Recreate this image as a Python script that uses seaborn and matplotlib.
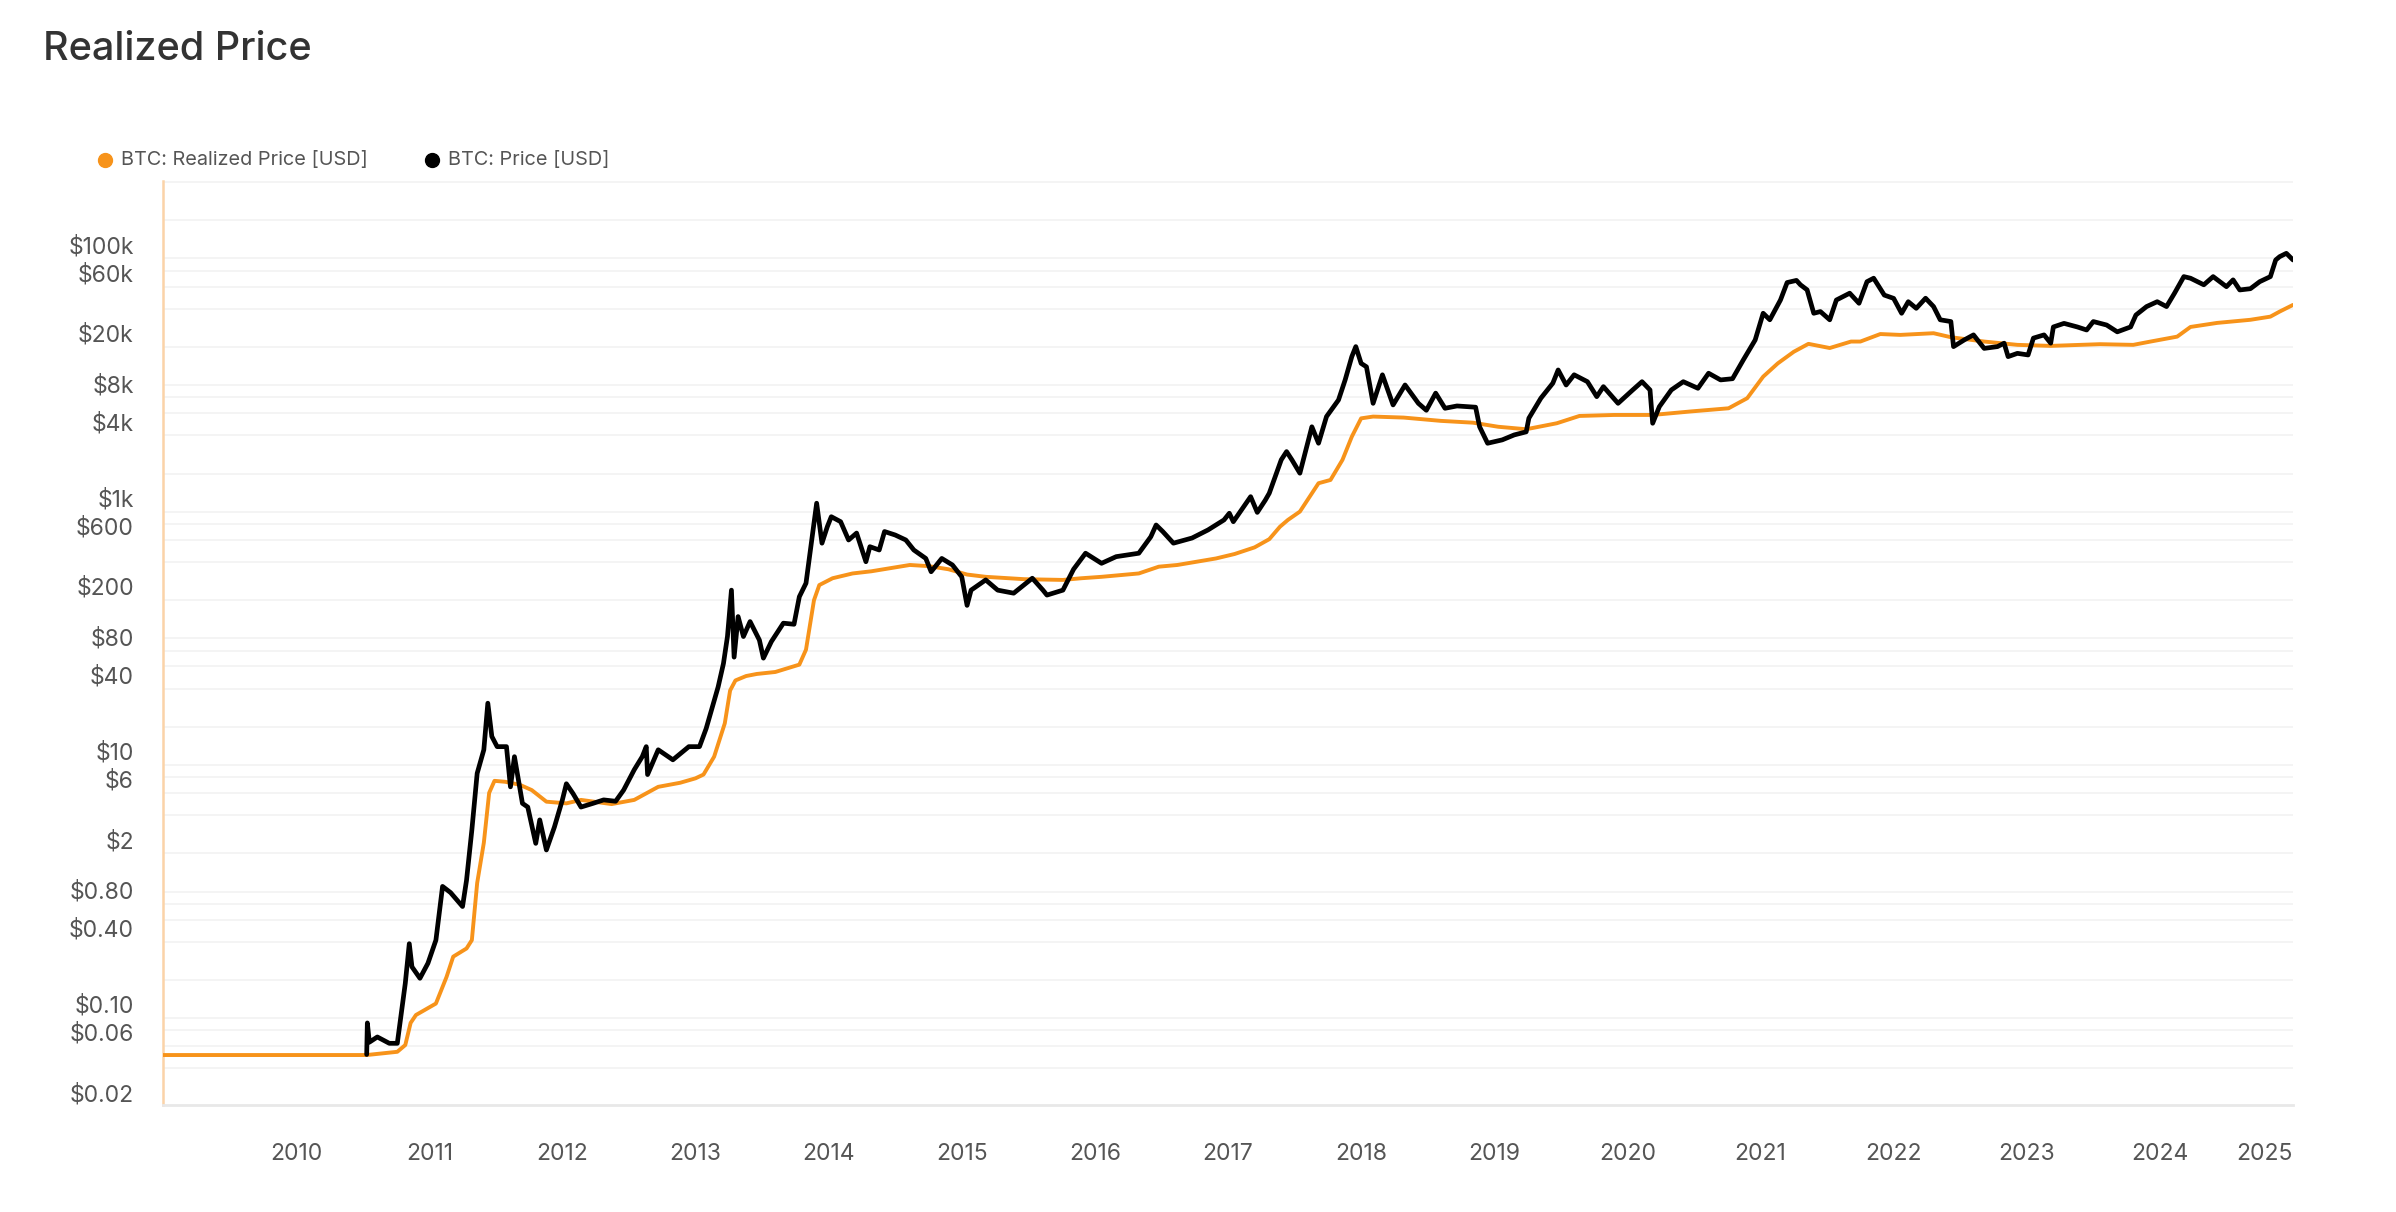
import numpy as np
import pandas as pd
import matplotlib
matplotlib.use("Agg")
import matplotlib.pyplot as plt
import seaborn as sns
from matplotlib.lines import Line2D
from matplotlib.ticker import FixedLocator, NullFormatter

# ---------------- data ----------------
# Realized price (orange), x in decimal years
rp_year = [2009.00, 2010.53, 2010.76, 2010.82, 2010.86, 2010.90, 2011.05, 2011.13, 2011.18, 2011.28,
           2011.32, 2011.36, 2011.41, 2011.45, 2011.49, 2011.57, 2011.68, 2011.77, 2011.88, 2012.03,
           2012.14, 2012.37, 2012.54, 2012.72, 2012.885, 2013.00, 2013.06, 2013.14, 2013.22, 2013.26,
           2013.30, 2013.38, 2013.46, 2013.60, 2013.78, 2013.83, 2013.89, 2013.93, 2014.03, 2014.18,
           2014.32, 2014.61, 2014.75, 2014.90, 2015.04, 2015.18, 2015.47, 2015.76, 2015.90, 2016.05,
           2016.33, 2016.48, 2016.62, 2016.91, 2017.05, 2017.20, 2017.31, 2017.39, 2017.45, 2017.54,
           2017.68, 2017.77, 2017.86, 2017.93, 2018.00, 2018.09, 2018.32, 2018.60, 2018.84, 2019.03,
           2019.24, 2019.47, 2019.64, 2019.90, 2020.19, 2020.47, 2020.76, 2020.90, 2021.02, 2021.13,
           2021.25, 2021.36, 2021.52, 2021.68, 2021.75, 2021.90, 2022.05, 2022.30, 2022.43, 2022.68,
           2022.93, 2023.18, 2023.55, 2023.80, 2023.93, 2024.13, 2024.23, 2024.43, 2024.68, 2024.83,
           2024.90, 2025.00]
rp_value = [0.0396, 0.0396, 0.042, 0.0475, 0.071, 0.082, 0.101, 0.164, 0.237, 0.275,
            0.32, 0.905, 1.88, 4.66, 5.8, 5.7, 5.4, 4.9, 3.97, 3.85,
            4.1, 3.8, 4.1, 5.2, 5.6, 6.07, 6.5, 9.0, 16.5, 30.0,
            36.0, 39.0, 40.5, 42.0, 48.0, 63.0, 155.0, 204.0, 231.0, 252.0,
            262.0, 294.0, 288.0, 272.0, 247.0, 237.0, 227.0, 224.0, 231.0, 237.0,
            252.0, 285.0, 294.0, 331.0, 359.0, 405.0, 470.0, 589.0, 667.0, 776.0,
            1300.0, 1380.0, 1990.0, 3030.0, 4230.0, 4370.0, 4290.0, 4040.0, 3910.0, 3630.0,
            3470.0, 3870.0, 4420.0, 4500.0, 4500.0, 4790.0, 5080.0, 6100.0, 9030.0, 11500.0,
            14200.0, 16400.0, 15200.0, 17100.0, 17100.0, 19600.0, 19300.0, 19900.0, 18500.0, 17100.0,
            16100.0, 15800.0, 16300.0, 16100.0, 17100.0, 18700.0, 22300.0, 24000.0, 25400.0, 26900.0,
            29500.0, 33300.0]

# Market price (black)
px_year = [2010.530, 2010.535, 2010.55, 2010.61, 2010.70, 2010.76, 2010.79, 2010.82, 2010.85, 2010.87,
           2010.93, 2010.99, 2011.05, 2011.10, 2011.16, 2011.25, 2011.28, 2011.32, 2011.36, 2011.41,
           2011.44, 2011.47, 2011.51, 2011.58, 2011.61, 2011.64, 2011.70, 2011.74, 2011.80, 2011.83,
           2011.88, 2011.94, 2012.00, 2012.03, 2012.08, 2012.14, 2012.23, 2012.31, 2012.40, 2012.46,
           2012.54, 2012.60, 2012.63, 2012.64, 2012.72, 2012.83, 2012.95, 2013.03, 2013.08, 2013.12,
           2013.17, 2013.21, 2013.24, 2013.27, 2013.29, 2013.32, 2013.36, 2013.41, 2013.48, 2013.51,
           2013.57, 2013.66, 2013.74, 2013.78, 2013.83, 2013.88, 2013.91, 2013.95, 2013.99, 2014.02,
           2014.09, 2014.15, 2014.21, 2014.28, 2014.31, 2014.38, 2014.42, 2014.50, 2014.58, 2014.64,
           2014.73, 2014.77, 2014.85, 2014.93, 2015.00, 2015.04, 2015.07, 2015.18, 2015.27, 2015.39,
           2015.53, 2015.61, 2015.64, 2015.76, 2015.84, 2015.93, 2016.05, 2016.16, 2016.33, 2016.42,
           2016.46, 2016.51, 2016.59, 2016.73, 2016.85, 2016.97, 2017.01, 2017.04, 2017.17, 2017.22,
           2017.28, 2017.31, 2017.40, 2017.44, 2017.48, 2017.54, 2017.63, 2017.68, 2017.74, 2017.83,
           2017.88, 2017.93, 2017.96, 2018.00, 2018.04, 2018.09, 2018.16, 2018.24, 2018.33, 2018.43,
           2018.49, 2018.56, 2018.63, 2018.72, 2018.86, 2018.89, 2018.95, 2019.06, 2019.15, 2019.24,
           2019.26, 2019.35, 2019.44, 2019.48, 2019.54, 2019.60, 2019.70, 2019.77, 2019.82, 2019.93,
           2020.04, 2020.11, 2020.17, 2020.19, 2020.24, 2020.33, 2020.42, 2020.53, 2020.61, 2020.70,
           2020.79, 2020.87, 2020.96, 2021.02, 2021.07, 2021.15, 2021.20, 2021.27, 2021.30, 2021.35,
           2021.40, 2021.45, 2021.52, 2021.57, 2021.67, 2021.74, 2021.80, 2021.85, 2021.93, 2022.00,
           2022.06, 2022.11, 2022.17, 2022.24, 2022.30, 2022.35, 2022.43, 2022.45, 2022.53, 2022.60,
           2022.68, 2022.78, 2022.83, 2022.86, 2022.93, 2023.01, 2023.05, 2023.13, 2023.18, 2023.20,
           2023.28, 2023.38, 2023.45, 2023.50, 2023.60, 2023.68, 2023.78, 2023.82, 2023.90, 2023.98,
           2024.05, 2024.11, 2024.18, 2024.23, 2024.33, 2024.40, 2024.50, 2024.55, 2024.60, 2024.68,
           2024.75, 2024.83, 2024.87, 2024.90, 2024.95, 2025.00]
px_value = [0.040, 0.071, 0.050, 0.055, 0.049, 0.049, 0.085, 0.146, 0.30, 0.197,
            0.16, 0.21, 0.32, 0.85, 0.76, 0.59, 0.95, 2.37, 6.65, 10.2,
            23.8, 13.0, 10.8, 10.8, 5.2, 9.0, 3.85, 3.6, 1.86, 2.85,
            1.65, 2.5, 4.1, 5.5, 4.6, 3.6, 3.85, 4.1, 4.0, 4.9,
            7.1, 9.0, 10.8, 6.5, 10.2, 8.5, 10.8, 10.8, 15.0, 21.0,
            32.0, 49.0, 80.0, 186.0, 55.0, 115.0, 80.0, 105.0, 75.0, 54.0,
            73.0, 102.0, 100.0, 165.0, 211.0, 525.0, 904.0, 437.0, 589.0, 707.0,
            646.0, 463.0, 525.0, 312.0, 410.0, 386.0, 540.0, 507.0, 463.0, 386.0,
            331.0, 260.0, 331.0, 294.0, 237.0, 141.0, 186.0, 224.0, 186.0, 176.0,
            231.0, 186.0, 170.0, 186.0, 272.0, 364.0, 303.0, 342.0, 364.0, 491.0,
            608.0, 540.0, 437.0, 480.0, 556.0, 667.0, 753.0, 646.0, 1018.0, 765.0,
            955.0, 1084.0, 1990.0, 2310.0, 1990.0, 1560.0, 3630.0, 2690.0, 4370.0, 5910.0,
            8510.0, 13000.0, 15600.0, 11500.0, 10800.0, 5560.0, 9340.0, 5400.0, 7760.0, 5560.0,
            4900.0, 6690.0, 5080.0, 5300.0, 5180.0, 3630.0, 2690.0, 2860.0, 3130.0, 3310.0,
            4240.0, 6100.0, 8020.0, 10200.0, 7760.0, 9340.0, 8240.0, 6280.0, 7530.0, 5560.0,
            7090.0, 8240.0, 7090.0, 3870.0, 5230.0, 7090.0, 8240.0, 7310.0, 9610.0, 8510.0,
            8700.0, 12200.0, 17600.0, 28600.0, 25400.0, 36400.0, 50000.0, 52000.0, 48000.0, 43800.0,
            28600.0, 29500.0, 25400.0, 36400.0, 41200.0, 34300.0, 50800.0, 54100.0, 39800.0, 37500.0,
            28600.0, 35300.0, 31300.0, 37600.0, 32300.0, 25400.0, 24600.0, 15600.0, 17600.0, 19300.0,
            15100.0, 15600.0, 16600.0, 13000.0, 13800.0, 13400.0, 18200.0, 19300.0, 16600.0, 22300.0,
            23800.0, 22300.0, 21100.0, 24600.0, 23100.0, 20400.0, 22300.0, 27700.0, 32300.0, 35300.0,
            32300.0, 41200.0, 55700.0, 54100.0, 48000.0, 55700.0, 46400.0, 52500.0, 43700.0, 44700.0,
            50800.0, 55700.0, 75400.0, 80100.0, 85100.0, 75400.0]

# axis ticks / labels
x_ticks = list(range(2010, 2026))
x_labels = [str(y) for y in x_ticks]
y_ticks = [0.02, 0.06, 0.10, 0.40, 0.80, 2, 6, 10, 40, 80, 200, 600, 1000, 4000, 8000,
           20000, 60000, 100000]
y_labels = ["$0.02", "$0.06", "$0.10", "$0.40", "$0.80", "$2", "$6", "$10", "$40", "$80",
            "$200", "$600", "$1k", "$4k", "$8k", "$20k", "$60k", "$100k"]

series_names = ["BTC: Realized Price [USD]", "BTC: Price [USD]"]
series_colors = ["#F7931A", "#000000"]

# ---------------- figure ----------------
sns.set_theme(style="white")
plt.rcParams["font.family"] = ["Inter", "DejaVu Sans"]

W, H = 2396, 1212
fig = plt.figure(figsize=(W / 100, H / 100), dpi=100)
fig.patch.set_facecolor("white")
ax = fig.add_axes([163 / W, 1 - 1105 / H, (2293 - 163) / W, (1105 - 181) / H])
ax.set_facecolor("white")

rp = pd.DataFrame({"year": rp_year, "value": rp_value})
px = pd.DataFrame({"year": px_year, "value": px_value})

sns.lineplot(data=rp, x="year", y="value", ax=ax, color=series_colors[0], linewidth=2.8,
             estimator=None, sort=False, zorder=3)
sns.lineplot(data=px, x="year", y="value", ax=ax, color=series_colors[1], linewidth=3.4,
             estimator=None, sort=False, zorder=4)
for ln in ax.get_lines():
    ln.set_solid_joinstyle("round")
    ln.set_solid_capstyle("round")

ax.set_yscale("log")
ax.set_xlim(2009.0, 2025.0)
ax.set_ylim(0.01596, 317000)

# y ticks
ax.yaxis.set_major_locator(FixedLocator(y_ticks))
ax.set_yticklabels(y_labels)
grid_vals = []
for e in range(-3, 6):
    for k in range(1, 6):
        v = 1.55 * k * 10 ** e
        if 0.0159 < v < 317000:
            grid_vals.append(v)
ax.yaxis.set_minor_locator(FixedLocator(grid_vals))
ax.yaxis.set_minor_formatter(NullFormatter())
ax.grid(False)
ax.grid(True, which="minor", axis="y", color="#f3f3f3", linewidth=1.3, zorder=0)
ax.tick_params(axis="y", which="both", length=0, pad=21, labelsize=16.5, labelcolor="#555555")

# x ticks
ax.set_xticks(x_ticks)
ax.set_xticklabels(x_labels)
ax.tick_params(axis="x", which="major", length=16, width=1.2, color="#ececec", pad=11,
               labelsize=16.5, labelcolor="#555555", direction="out")
xl = ax.get_xticklabels()
xl[-1].set_horizontalalignment("right")
ax.set_xlabel("")
ax.set_ylabel("")

for s in ["top", "right"]:
    ax.spines[s].set_visible(False)
ax.spines["left"].set_color("#FBD3A8")
ax.spines["left"].set_linewidth(1.8)
ax.spines["bottom"].set_color("#e8e8e8")
ax.spines["bottom"].set_linewidth(2.0)

# title
fig.text(43 / W, 1 - 49 / H, "Realized Price", fontsize=28.5, color="#333333",
         fontweight="medium", ha="left", va="center")

# legend (dots + labels)
leg_pos = [(105, 121), (432, 448)]
for (dx, tx), name, col in zip(leg_pos, series_names, series_colors):
    fig.add_artist(Line2D([dx / W], [1 - 160 / H], marker="o", markersize=10, color=col,
                          markeredgecolor=col, linestyle="none", transform=fig.transFigure))
    fig.text(tx / W, 1 - 160 / H, name, fontsize=14.3, color="#555555",
             ha="left", va="center")

fig.savefig("out.png", dpi=100, facecolor="white")
